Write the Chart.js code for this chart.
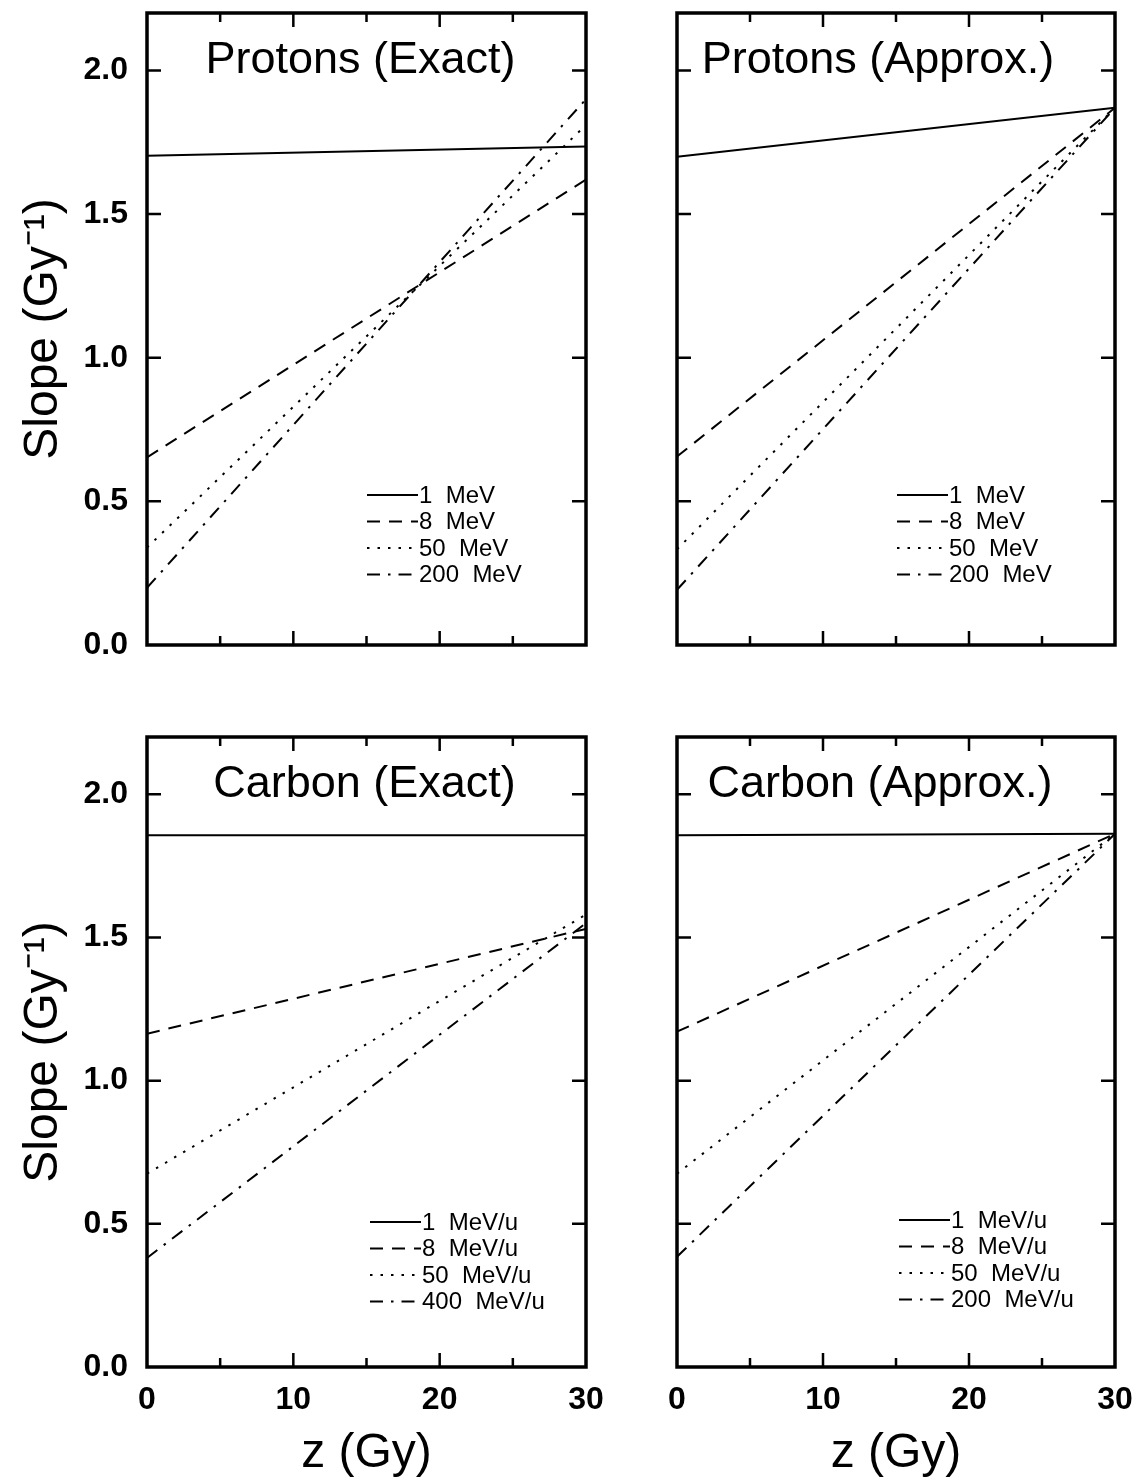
<!DOCTYPE html>
<html>
<head>
<meta charset="utf-8">
<script src="https://cdn.jsdelivr.net/npm/chart.js@4.4.1/dist/chart.umd.min.js"></script>
<style>
  body { margin: 0; background: #fff; width: 1143px; height: 1483px; position: relative; overflow: hidden; }
  .panel { position: absolute; }
</style>
</head>
<body>
<div class="panel" style="left:0;top:0"><canvas id="pe" width="640" height="665"></canvas></div>
<div class="panel" style="left:600px;top:0"><canvas id="pa" width="543" height="665"></canvas></div>
<div class="panel" style="left:0;top:700px"><canvas id="ce" width="640" height="783"></canvas></div>
<div class="panel" style="left:600px;top:700px"><canvas id="ca" width="543" height="783"></canvas></div>
<script>
// dose range, slope values at z = 0 and z = 30 Gy
const zRange = [0, 30];
const protonEnergies = ['1 MeV', '8 MeV', '50 MeV', '200 MeV'];
const carbonExactEnergies = ['1 MeV/u', '8 MeV/u', '50 MeV/u', '400 MeV/u'];
const carbonApproxEnergies = ['1 MeV/u', '8 MeV/u', '50 MeV/u', '200 MeV/u'];

const protonExactSlope  = [[1.703, 1.735], [0.653, 1.62], [0.339, 1.81], [0.199, 1.90]];
const protonApproxSlope = [[1.700, 1.870], [0.656, 1.87], [0.333, 1.87], [0.192, 1.87]];
const carbonExactSlope  = [[1.857, 1.857], [1.164, 1.53], [0.675, 1.58], [0.381, 1.55]];
const carbonApproxSlope = [[1.857, 1.862], [1.171, 1.862], [0.675, 1.862], [0.385, 1.862]];

// solid, dashed, dotted, dash-dot
const lineDashes = [[], [13, 9], [2.5, 8], [13, 8, 2.5, 8]];

const numFont = "'Liberation Sans', Arial, sans-serif";
const textFont = "'Liberation Sans', Arial, sans-serif";

// frame, inward tick marks, panel title and legend
const decoPlugin = {
  id: 'deco',
  afterDraw(chart, args, opts) {
    const ctx = chart.ctx;
    const a = chart.chartArea;
    const xs = chart.scales.x, ys = chart.scales.y;
    ctx.save();
    ctx.strokeStyle = '#000';
    ctx.lineWidth = 2.5;
    ctx.setLineDash([]);
    ctx.beginPath();
    xs.ticks.forEach(t => {
      if (t.value <= xs.min || t.value >= xs.max) return;
      const px = xs.getPixelForValue(t.value);
      const len = t.value % 10 === 0 ? 14 : 9;
      ctx.moveTo(px, a.bottom); ctx.lineTo(px, a.bottom - len);
      ctx.moveTo(px, a.top); ctx.lineTo(px, a.top + len);
    });
    ys.ticks.forEach(t => {
      if (t.value <= ys.min || t.value >= ys.max) return;
      const py = ys.getPixelForValue(t.value);
      ctx.moveTo(a.left, py); ctx.lineTo(a.left + 14, py);
      ctx.moveTo(a.right, py); ctx.lineTo(a.right - 14, py);
    });
    ctx.stroke();
    ctx.lineWidth = 3.5;
    ctx.strokeRect(a.left, a.top, a.right - a.left, a.bottom - a.top);

    ctx.fillStyle = '#000';
    ctx.font = '45px ' + textFont;
    ctx.textAlign = 'center';
    ctx.textBaseline = 'alphabetic';
    ctx.fillText(opts.title, (a.left + a.right) / 2 + opts.titleDx, a.top + 60);

    ctx.font = '24px ' + textFont;
    ctx.textAlign = 'left';
    ctx.textBaseline = 'middle';
    ctx.lineWidth = 2;
    chart.data.datasets.forEach((ds, i) => {
      const x0 = a.left + opts.legendDx;
      const y = a.bottom - opts.legendDy + i * 26.5;
      ctx.setLineDash(ds.borderDash || []);
      ctx.beginPath();
      ctx.moveTo(x0, y); ctx.lineTo(x0 + 51, y);
      ctx.stroke();
      ctx.fillText(ds.label.replace(' ', '  '), x0 + 52, y + 1);
    });
    ctx.restore();
  }
};

function makePanel(id, title, energies, slopes, leftCol, bottomRow, deco) {
  const datasets = energies.map((lab, i) => ({
    label: lab,
    data: zRange.map((z, j) => ({ x: z, y: slopes[i][j] })),
    borderColor: '#000',
    borderWidth: 2,
    borderDash: lineDashes[i],
    pointRadius: 0,
    tension: 0,
    fill: false
  }));
  return new Chart(document.getElementById(id), {
    type: 'line',
    data: { datasets: datasets },
    plugins: [decoPlugin],
    options: {
      responsive: false,
      animation: false,
      devicePixelRatio: 1,
      layout: { padding: { left: 0, right: leftCol ? 54 : 28, top: bottomRow ? 37 : 13, bottom: 0 } },
      plugins: {
        legend: { display: false },
        tooltip: { enabled: false },
        deco: Object.assign({ title: title }, deco)
      },
      scales: {
        x: {
          type: 'linear', min: 0, max: 30,
          grid: { display: false, drawTicks: false },
          border: { display: false },
          ticks: {
            display: bottomRow, stepSize: 5, autoSkip: false, maxRotation: 0, padding: 14,
            color: '#000', font: { family: numFont, size: 32, weight: 'bold' },
            callback: v => (v % 10 === 0 ? String(v) : '')
          },
          title: {
            display: bottomRow, text: 'z (Gy)', color: '#000',
            font: { family: textFont, size: 48 }, padding: { top: 0, bottom: 0 }
          },
          afterFit: s => {
            s.height = bottomRow ? 116 : 20;
            s.paddingLeft = 0; s.paddingRight = 0;
          }
        },
        y: {
          min: 0, max: 2.2,
          grid: { display: false, drawTicks: false },
          border: { display: false },
          ticks: {
            display: leftCol, stepSize: 0.5, includeBounds: false, padding: 19,
            color: '#000', font: { family: numFont, size: 32, weight: 'bold' },
            callback: v => v.toFixed(1)
          },
          title: {
            display: leftCol, text: 'Slope (Gy\u207B\u00B9)', color: '#000',
            font: { family: textFont, size: 48 }, padding: { top: 15, bottom: 0 }
          },
          afterFit: s => {
            s.width = leftCol ? 147 : 77;
            s.paddingTop = 0; s.paddingBottom = 0;
          }
        }
      }
    }
  });
}

makePanel('pe', 'Protons (Exact)', protonEnergies, protonExactSlope, true, false,
  { titleDx: -6, legendDx: 220, legendDy: 150 });
makePanel('pa', 'Protons (Approx.)', protonEnergies, protonApproxSlope, false, false,
  { titleDx: -18, legendDx: 220, legendDy: 150 });
makePanel('ce', 'Carbon (Exact)', carbonExactEnergies, carbonExactSlope, true, true,
  { titleDx: -2, legendDx: 223, legendDy: 145 });
makePanel('ca', 'Carbon (Approx.)', carbonApproxEnergies, carbonApproxSlope, false, true,
  { titleDx: -16, legendDx: 222, legendDy: 147 });
</script>
</body>
</html>
